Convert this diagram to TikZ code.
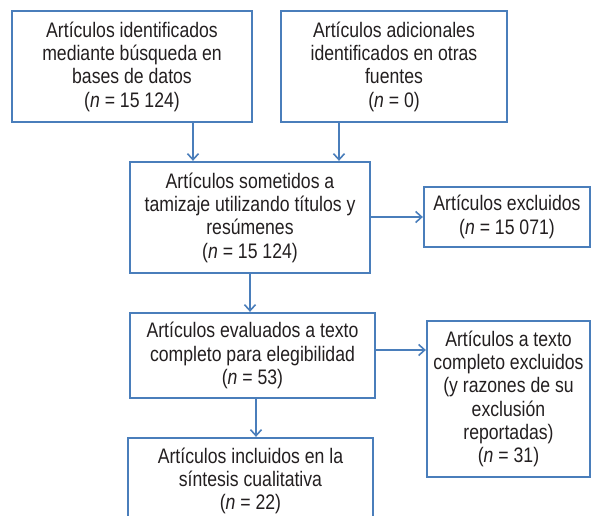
\documentclass[tikz,border=0pt]{standalone}
\usepackage{fontspec}
\setmainfont{Liberation Sans}[FakeStretch=0.84]
\usetikzlibrary{arrows.meta,calc}
\definecolor{boxblue}{HTML}{4A7EBB}
\definecolor{txt}{HTML}{231F20}
\tikzset{
  fbox/.style={draw=boxblue,line width=2.3pt,fill=white,align=center,text=txt,
    font=\fontsize{21}{23.3}\selectfont,inner sep=0pt},
  arr/.style={draw=boxblue,line width=1.8pt,-{Straight Barb[length=6pt,width=11pt,line width=1.6pt]}}
}
\begin{document}
\begin{tikzpicture}[x=1pt,y=-1pt]
\useasboundingbox (0,0) rectangle (592,515);
\clip (0,0) rectangle (592,515);
\node[fbox,minimum width=240pt,minimum height=111pt] (b1) at (132,66.5)
  {Artículos identificados\\mediante búsqueda en\\bases de datos\\(\textit{n} = 15 124)};
\node[fbox,minimum width=226pt,minimum height=111pt] (b2) at (394,66.5)
  {Artículos adicionales\\identificados en otras\\fuentes\\(\textit{n} = 0)};
\node[fbox,minimum width=240pt,minimum height=111pt] (b3) at (250,217.5)
  {Artículos sometidos a\\tamizaje utilizando títulos y\\resúmenes\\(\textit{n} = 15 124)};
\node[fbox,minimum width=166pt,minimum height=60pt] (b4) at (507,217)
  {Artículos excluidos\\(\textit{n} = 15 071)};
\node[fbox,minimum width=245pt,minimum height=85pt] (b5) at (252.5,355.5)
  {Artículos evaluados a texto\\completo para elegibilidad\\(\textit{n} = 53)};
\node[fbox,minimum width=163pt,minimum height=156pt] (b6) at (508.5,399)
  {Artículos a texto\\completo excluidos\\(y razones de su\\exclusión\\reportadas)\\(\textit{n} = 31)};
\node[fbox,minimum width=245pt,minimum height=86pt] (b7) at (250.5,481)
  {Artículos incluidos en la\\síntesis cualitativa\\(\textit{n} = 22)};
\draw[arr] (b1.south -| 193,0) -- (b3.north -| 193,0);
\draw[arr] (b2.south -| 339,0) -- (b3.north -| 339,0);
\draw[arr] (b3.east |- 0,217) -- (b4.west |- 0,217);
\draw[arr] (b3.south -| 250,0) -- (b5.north -| 250,0);
\draw[arr] (b5.east |- 0,350) -- (b6.west |- 0,350);
\draw[arr] (b5.south -| 256,0) -- (b7.north -| 256,0);
\end{tikzpicture}
\end{document}
